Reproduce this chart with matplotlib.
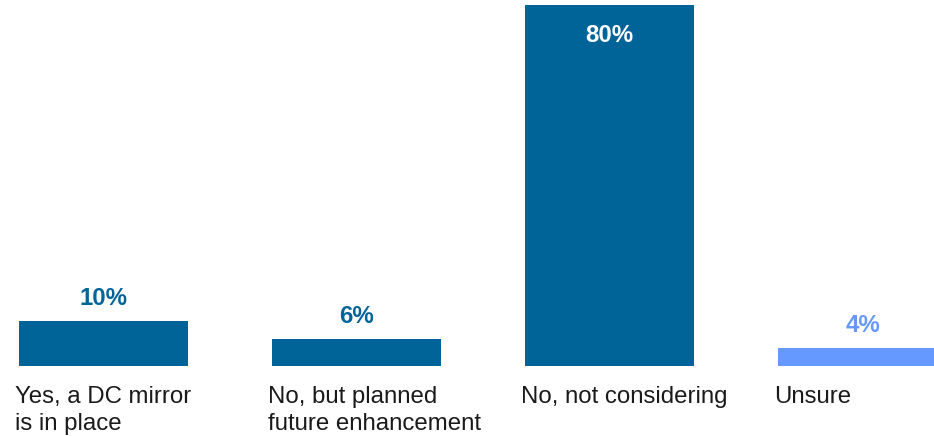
import matplotlib.pyplot as plt

plt.rcParams['font.family'] = ['Liberation Sans', 'DejaVu Sans']

categories = ['Yes, a DC mirror\nis in place', 'No, but planned\nfuture enhancement',
              'No, not considering', 'Unsure']
values = [10, 6, 80, 4]
labels = ['10%', '6%', '80%', '4%']
bar_colors = ['#006498', '#006498', '#006498', '#6699FF']
label_colors = ['#006498', '#006498', 'white', '#6699FF']

fig = plt.figure(figsize=(9.34, 4.36), dpi=100)
ax = fig.add_axes([0, 70 / 436, 1, 366 / 436])

w = 0.668
x = list(range(len(values)))
bars = ax.bar(x, values, width=w, color=bar_colors)

for xi, v, lab, c in zip(x, values, labels, label_colors):
    if v > 50:
        ax.annotate(lab, (xi, v), xytext=(0, -37), textcoords='offset pixels',
                    ha='center', va='baseline', color=c, fontsize=17.3, fontweight='bold')
    else:
        ax.annotate(lab, (xi, v), xytext=(0, 16), textcoords='offset pixels',
                    ha='center', va='baseline', color=c, fontsize=17.3, fontweight='bold')

for xi, cat in zip(x, categories):
    ax.annotate(cat, (xi - w / 2, 0), xytext=(-4, -20), textcoords='offset pixels',
                ha='left', va='top', color='#1a1a1a', fontsize=17.3,
                linespacing=1.3, annotation_clip=False)

ax.set_xlim(-103.5 / 253, (934 - 103.5) / 253)
ax.set_ylim(0, 366 / (361 / 80))
ax.axis('off')

fig.savefig('out.png', dpi=100)
